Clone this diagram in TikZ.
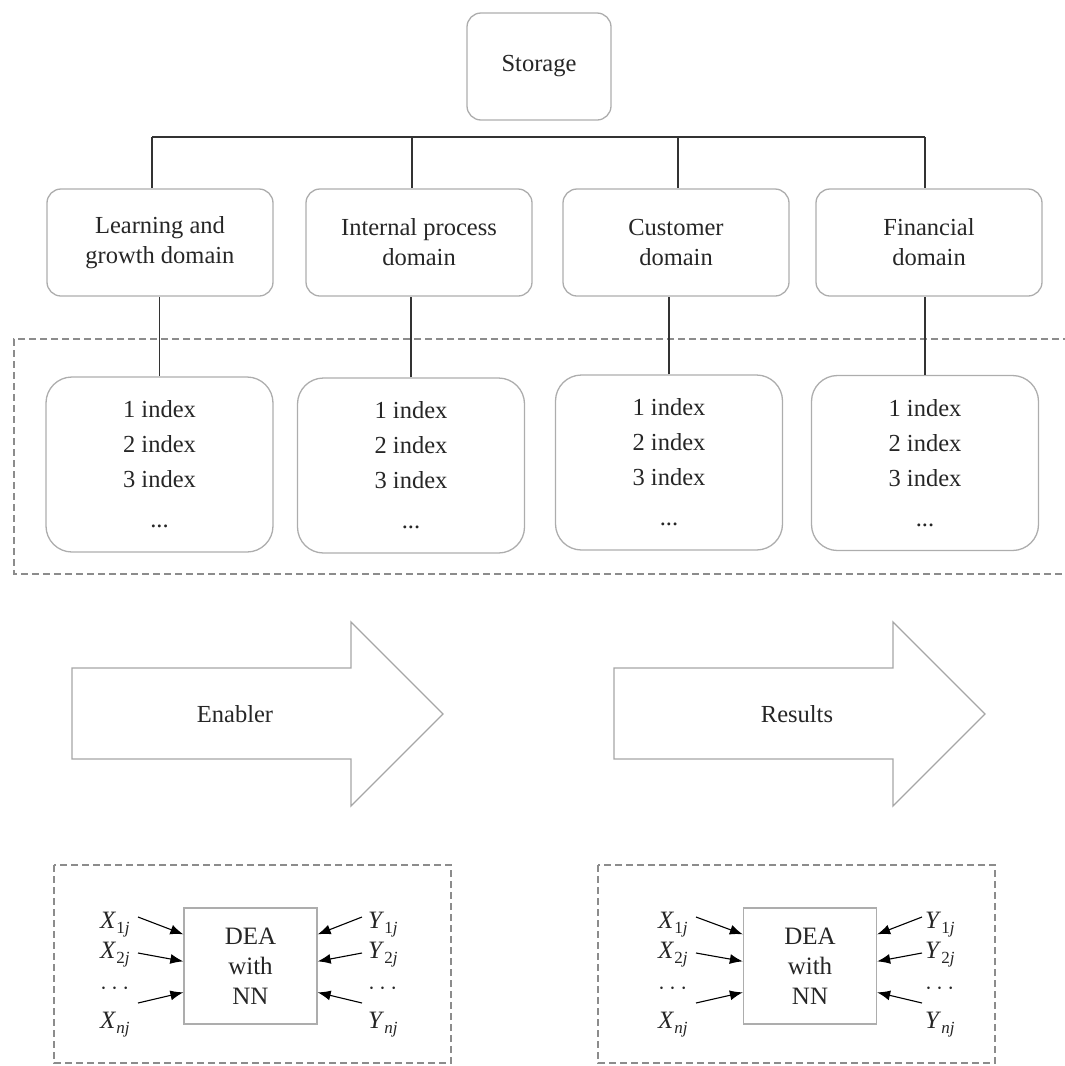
\documentclass[tikz,border=0pt]{standalone}
\usepackage{fontspec}
\setmainfont{Liberation Serif}
\usetikzlibrary{arrows.meta,calc}
% subscripted variable such as X_{1j}
\newcommand\varsub[2]{\textit{#1}\raisebox{-0.5ex}{\fontsize{17}{17}\selectfont #2\textit{j}}}
\begin{document}
\begin{tikzpicture}[x=1pt,y=-1pt,
  every node/.style={font=\fontsize{24.5}{30}\selectfont, text=black!85},
  rbox/.style={draw=black!32, line width=1.3pt, rounded corners=14pt,
    minimum width=226pt, minimum height=107pt, align=center, inner sep=0pt},
  ibox/.style={draw=black!32, line width=1.3pt, rounded corners=26pt,
    minimum width=227pt, minimum height=175pt, align=center, inner sep=0pt,
    font=\fontsize{24.5}{35}\selectfont},
  link/.style={draw=black!80, line width=1.2pt},
  frame/.style={draw=black!45, line width=1.3pt, dash pattern=on 7pt off 4pt},
  bigarrow/.style={draw=black!35, line width=1.3pt},
  deabox/.style={draw=black!32, line width=1.3pt, minimum width=133pt,
    minimum height=116pt, align=center, inner sep=0pt},
  feed/.style={draw=black, line width=1.1pt, -{Latex[length=13pt,width=10pt]}},
  vlabel/.style={anchor=base west, inner sep=0pt, font=\fontsize{25}{30}\selectfont},
]
\useasboundingbox (0,0) rectangle (1065,1066);

% ---- top level ----
\node[rbox, minimum width=144pt] (st) at (539,66.5) {Storage};

% ---- domains ----
\node[rbox] (d1) at (160,242.5) {Learning and\\growth domain};
\node[rbox] (d2) at (419,242.5) {Internal process\\domain};
\node[rbox] (d3) at (676,242.5) {Customer\\domain};
\node[rbox] (d4) at (929,242.5) {Financial\\domain};

% bus joining the domains
\coordinate (b1) at (152,137);
\coordinate (b2) at (412,137);
\coordinate (b3) at (678,137);
\coordinate (b4) at (925,137);
\draw[link] (b1) -- (b4);
\draw[link] (b1) -- (b1 |- d1.north);
\draw[link] (b2) -- (b2 |- d2.north);
\draw[link] (b3) -- (b3 |- d3.north);
\draw[link] (b4) -- (b4 |- d4.north);

% ---- index groups ----
\draw[frame] (1070,339) -| (14,574) -- (1070,574);
\node[ibox] (i1) at (159.5,464.5) {1 index\\2 index\\3 index\\[5pt]...};
\node[ibox] (i2) at (411,465.5) {1 index\\2 index\\3 index\\[5pt]...};
\node[ibox] (i3) at (669,462.5) {1 index\\2 index\\3 index\\[5pt]...};
\node[ibox] (i4) at (925,463) {1 index\\2 index\\3 index\\[5pt]...};
\draw[link] (i1.north) -- (i1.north |- d1.south);
\draw[link] (i2.north) -- (i2.north |- d2.south);
\draw[link] (i3.north) -- (i3.north |- d3.south);
\draw[link] (i4.north) -- (i4.north |- d4.south);

% ---- block arrows ----
\draw[bigarrow] (72,668) -- (351,668) -- (351,622) -- (443,714)
  -- (351,806) -- (351,759) -- (72,759) -- cycle;
\node (en) at (235,714) {Enabler};
\draw[bigarrow] (614,668) -- (893,668) -- (893,622) -- (985,714)
  -- (893,806) -- (893,759) -- (614,759) -- cycle;
\node (re) at (797,714) {Results};

% ---- DEA panels ----
\foreach \p/\dx/\bx/\xl/\yl/\xs/\ys in {L/0/250.5/100/368/138/362, R/544/810/658/925/696/922} {
  \draw[frame] (54+\dx,865) rectangle (451+\dx,1063);
  \node[deabox, font=\fontsize{25}{30}\selectfont] (dea\p) at (\bx,966) {DEA\\with\\NN};
  \node[vlabel] (x1\p) at (\xl,928) {\varsub{X}{1}};
  \node[vlabel] (x2\p) at (\xl,958) {\varsub{X}{2}};
  \node[vlabel] (x3\p) at (\xl,994) {$\cdots$};
  \node[vlabel] (xn\p) at (\xl,1028) {\varsub{X}{\textit{n}}};
  \node[vlabel] (y1\p) at (\yl,928) {\varsub{Y}{1}};
  \node[vlabel] (y2\p) at (\yl,958) {\varsub{Y}{2}};
  \node[vlabel] (y3\p) at (\yl,994) {$\cdots$};
  \node[vlabel] (yn\p) at (\yl,1028) {\varsub{Y}{\textit{n}}};
  \coordinate (sx1\p) at (\xs,917);
  \coordinate (sx2\p) at (\xs,953);
  \coordinate (sx3\p) at (\xs,1003);
  \coordinate (sy1\p) at (\ys,917);
  \coordinate (sy2\p) at (\ys,953);
  \coordinate (sy3\p) at (\ys,1003);
  \draw[feed] (sx1\p) -- ($(dea\p.north west)+(0,27)$);
  \draw[feed] (sx2\p) -- ($(dea\p.north west)+(0,54)$);
  \draw[feed] (sx3\p) -- ($(dea\p.north west)+(0,85)$);
  \draw[feed] (sy1\p) -- ($(dea\p.north east)+(0,27)$);
  \draw[feed] (sy2\p) -- ($(dea\p.north east)+(0,54)$);
  \draw[feed] (sy3\p) -- ($(dea\p.north east)+(0,85)$);
}
\end{tikzpicture}
\end{document}
